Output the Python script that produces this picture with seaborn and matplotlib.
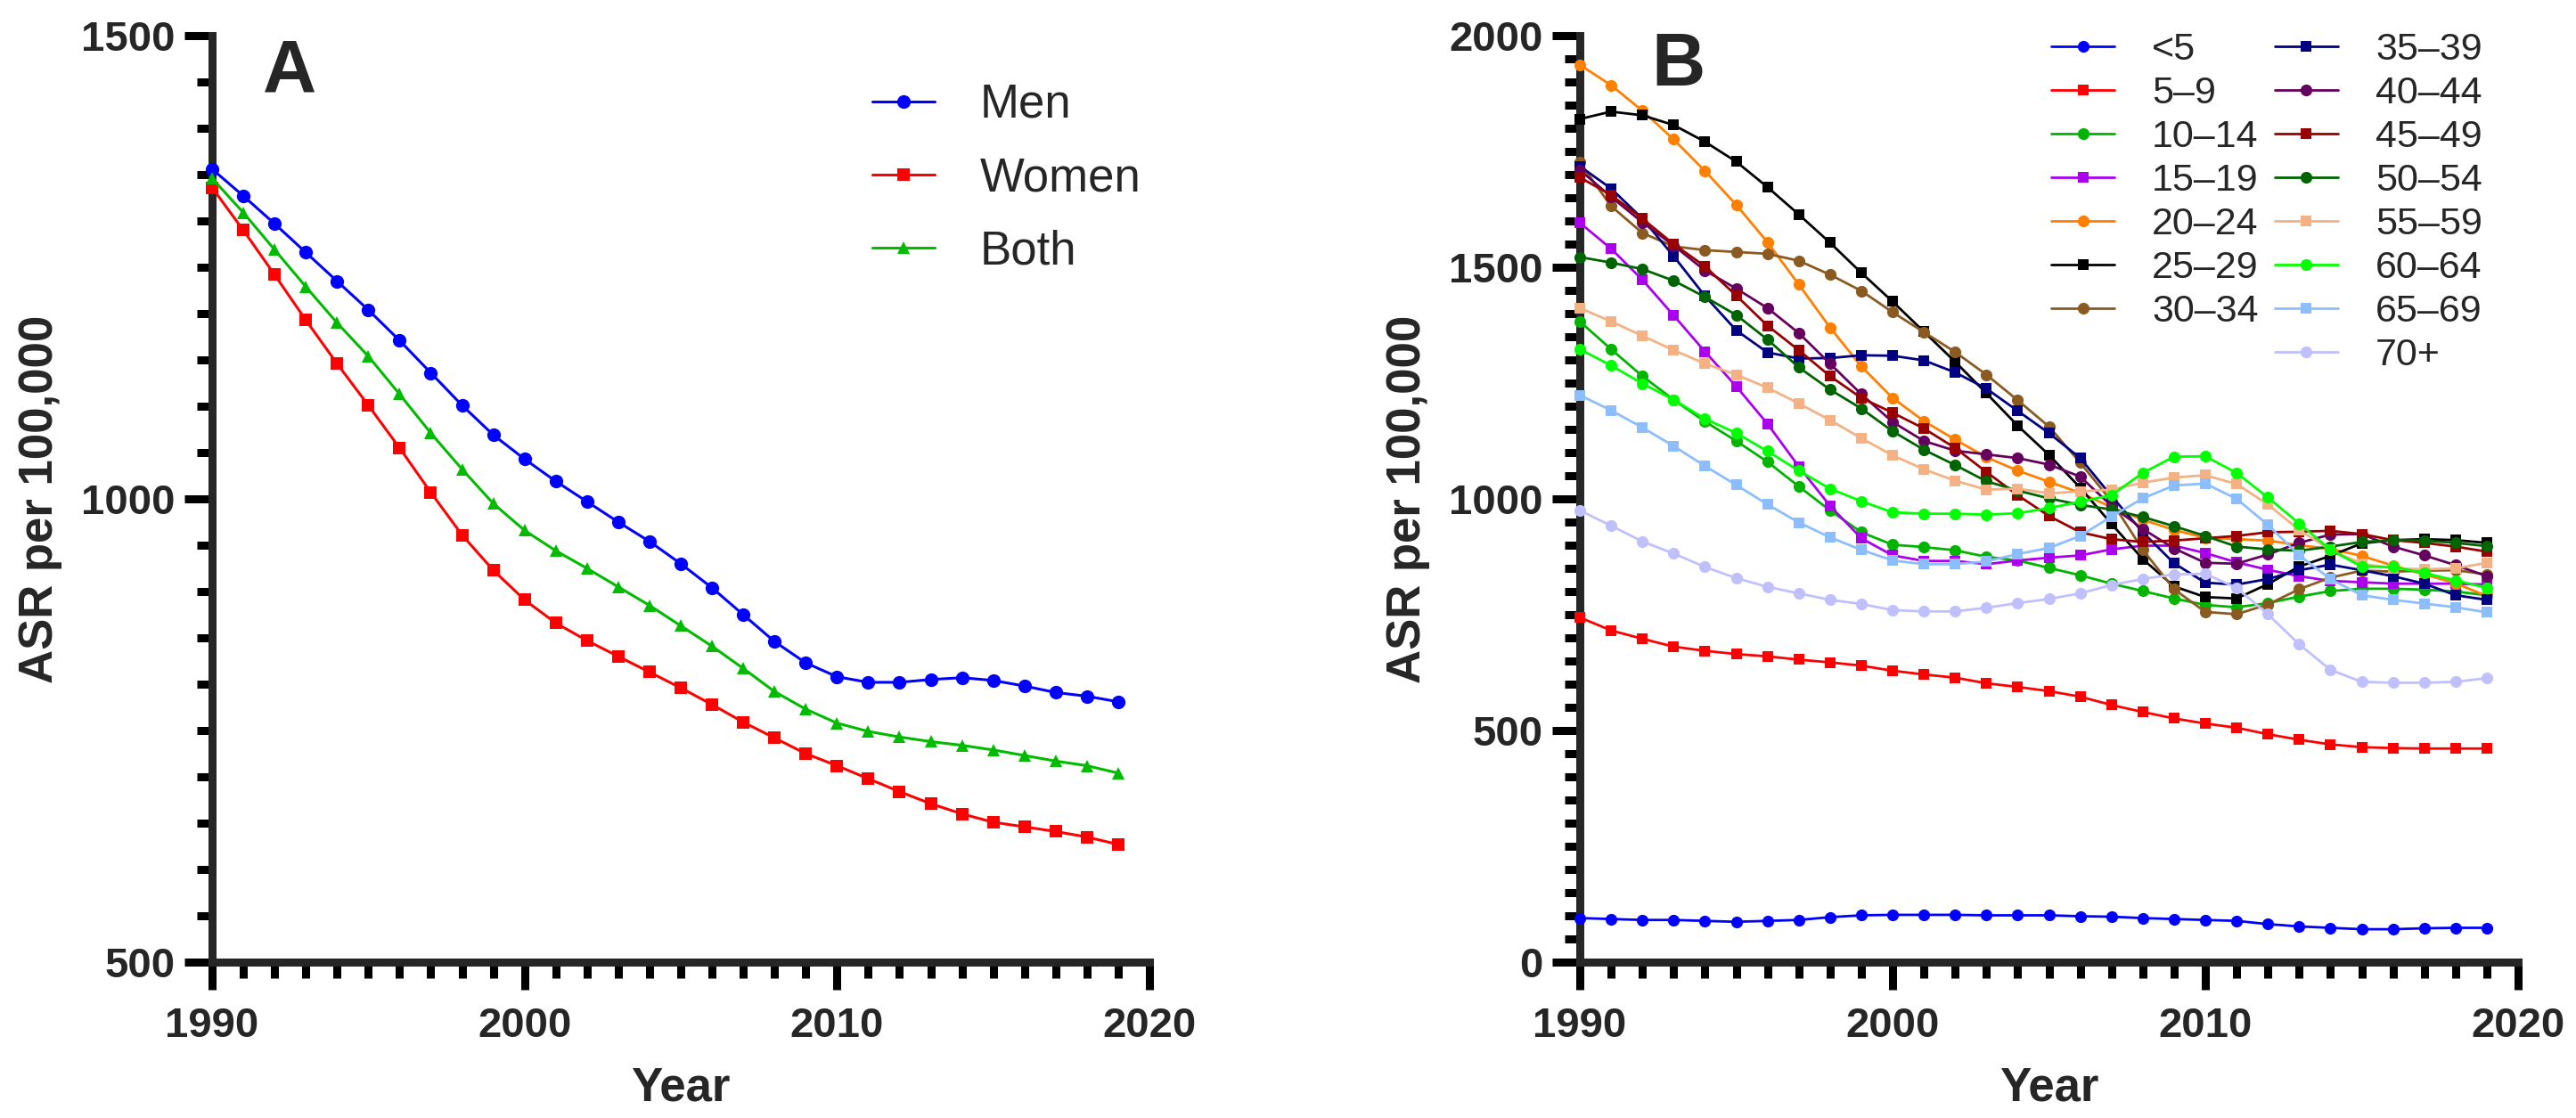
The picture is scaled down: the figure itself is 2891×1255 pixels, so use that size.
import matplotlib
matplotlib.use("Agg")
import matplotlib.pyplot as plt
from matplotlib.ticker import MultipleLocator, FixedLocator
from matplotlib.lines import Line2D
import seaborn as sns

sns.set_style("ticks")
plt.rcParams['font.family'] = ['Liberation Sans', 'DejaVu Sans']

years = list(range(1990, 2020))

# Panel A
sex_labels = ["Men", "Women", "Both"]
men = [1356, 1327, 1297, 1266, 1235, 1204, 1171, 1136, 1101, 1069, 1043, 1019, 997, 975, 954,
       930, 904, 875, 846, 823, 808, 802, 802, 805, 807, 804, 798, 791, 787, 781]
women = [1336, 1290, 1242, 1193, 1146, 1101, 1055, 1007, 961, 923, 891, 866, 847, 830, 813,
         796, 778, 759, 742, 725, 712, 698, 684, 671, 660, 651, 646, 641, 635, 627]
both = [1346, 1309, 1269, 1229, 1190, 1154, 1113, 1071, 1032, 995, 966, 944, 925, 905, 885,
        863, 841, 817, 792, 773, 758, 749, 743, 738, 734, 729, 723, 717, 712, 704]

# Panel B
age_labels = ["<5", "5–9", "10–14", "15–19", "20–24", "25–29", "30–34", "35–39",
              "40–44", "45–49", "50–54", "55–59", "60–64", "65–69", "70+"]
age_lt5 = [95, 93, 91, 91, 89, 87, 89, 91, 97, 101, 102, 102, 102, 101, 101, 101, 99, 98, 95, 93,
           91, 89, 82, 77, 74, 71, 71, 73, 74, 74]
age_5_9 = [744, 716, 698, 681, 672, 665, 660, 653, 647, 640, 629, 621, 614, 602, 594, 585, 573,
           555, 540, 526, 515, 506, 492, 480, 470, 464, 462, 461, 461, 461]
age_10_14 = [1383, 1323, 1265, 1214, 1167, 1125, 1080, 1027, 975, 928, 901, 896, 889, 875, 867,
             851, 835, 817, 801, 785, 771, 766, 775, 789, 801, 806, 806, 804, 800, 792]
age_15_19 = [1596, 1540, 1473, 1396, 1318, 1243, 1162, 1070, 985, 915, 878, 866, 866, 859, 867,
             873, 878, 891, 899, 899, 883, 863, 847, 833, 823, 820, 817, 817, 817, 815]
age_20_24 = [1937, 1893, 1838, 1776, 1708, 1635, 1554, 1463, 1370, 1286, 1218, 1168, 1128, 1090,
             1061, 1037, 1013, 982, 955, 933, 916, 913, 910, 900, 892, 877, 856, 837, 818, 790]
age_25_29 = [1820, 1836, 1828, 1807, 1771, 1728, 1673, 1614, 1553, 1488, 1426, 1361, 1296, 1228,
             1158, 1095, 1024, 946, 870, 811, 788, 785, 816, 854, 877, 904, 911, 913, 911, 905]
age_30_34 = [1726, 1632, 1574, 1545, 1537, 1533, 1529, 1514, 1484, 1449, 1403, 1360, 1317, 1268,
             1213, 1156, 1078, 995, 890, 805, 756, 751, 772, 805, 830, 845, 843, 845, 846, 837]
age_35_39 = [1718, 1670, 1605, 1524, 1438, 1364, 1316, 1303, 1304, 1310, 1309, 1299, 1273, 1238,
             1190, 1142, 1088, 1006, 928, 861, 819, 815, 827, 846, 858, 846, 833, 817, 792, 782]
age_40_44 = [1710, 1652, 1597, 1547, 1493, 1454, 1412, 1358, 1292, 1226, 1166, 1125, 1104, 1096,
             1088, 1074, 1048, 985, 935, 893, 862, 860, 880, 905, 923, 924, 897, 878, 857, 833]
age_45_49 = [1694, 1656, 1605, 1550, 1502, 1439, 1374, 1321, 1265, 1218, 1186, 1152, 1110, 1058,
             1008, 963, 928, 913, 907, 910, 915, 920, 928, 929, 931, 924, 911, 905, 897, 886]
age_50_54 = [1522, 1510, 1496, 1471, 1436, 1397, 1344, 1284, 1236, 1195, 1146, 1106, 1073, 1038,
             1018, 1001, 987, 977, 961, 941, 920, 897, 891, 888, 897, 907, 911, 910, 905, 898]
age_55_59 = [1412, 1383, 1352, 1321, 1292, 1268, 1240, 1206, 1170, 1131, 1094, 1064, 1039, 1020,
             1022, 1012, 1016, 1020, 1035, 1046, 1051, 1032, 988, 933, 890, 860, 850, 848, 850, 862]
age_60_64 = [1323, 1288, 1249, 1214, 1173, 1142, 1103, 1061, 1022, 995, 971, 968, 968, 966, 969,
             980, 994, 1008, 1056, 1091, 1092, 1056, 1003, 947, 890, 854, 853, 840, 824, 808]
age_65_69 = [1224, 1191, 1154, 1114, 1071, 1030, 988, 949, 917, 890, 867, 859, 859, 865, 881,
             894, 920, 962, 1001, 1029, 1033, 1000, 944, 878, 827, 792, 782, 774, 766, 755]
age_70p = [975, 942, 908, 882, 853, 829, 810, 796, 782, 773, 760, 757, 757, 765, 775, 784, 796,
           814, 827, 837, 838, 808, 751, 686, 631, 605, 603, 603, 605, 613]

age_series = [age_lt5, age_5_9, age_10_14, age_15_19, age_20_24, age_25_29, age_30_34, age_35_39,
              age_40_44, age_45_49, age_50_54, age_55_59, age_60_64, age_65_69, age_70p]
age_colors = ['#0000FF', '#FF0000', '#00B400', '#AA00EE', '#FF8000', '#000000', '#8B5A20',
              '#000080', '#66005E', '#990000', '#006400', '#F4B183', '#00FF00', '#8CBEFF', '#C0C0FF']
age_markers = ['o', 's', 'o', 's', 'o', 's', 'o', 's', 'o', 's', 'o', 's', 'o', 's', 'o']

W, H = 2891, 1255
fig = plt.figure(figsize=(W / 100, H / 100), dpi=100)
axA = fig.add_axes([238 / W, 175 / H, 1052 / W, 1040 / H])
axB = fig.add_axes([1773 / W, 175 / H, 1053 / W, 1040 / H])

SP = 6.5
TICK_FS = 34
LAB_FS = 38


def style_axis(ax, ymin, ymax):
    ax.set_xlim(1990, 2020)
    ax.set_ylim(ymin, ymax)
    sns.despine(ax=ax)
    for s in ['left', 'bottom']:
        ax.spines[s].set_linewidth(SP)
        ax.spines[s].set_capstyle('projecting')
    ax.xaxis.set_major_locator(FixedLocator([1990, 2000, 2010, 2020]))
    ax.xaxis.set_minor_locator(MultipleLocator(1))
    ax.yaxis.set_major_locator(MultipleLocator(500))
    ax.yaxis.set_minor_locator(MultipleLocator(50))
    ax.tick_params(which='major', direction='out', length=22, width=SP, color='black',
                   labelsize=TICK_FS)
    ax.tick_params(which='minor', direction='out', length=12.6, width=SP, color='black')
    ax.tick_params(axis='x', which='major', pad=14)
    ax.tick_params(axis='y', which='major', pad=8)
    for lab in ax.get_xticklabels() + ax.get_yticklabels():
        lab.set_fontweight('bold')
    ax.set_xlabel('Year', fontsize=LAB_FS, fontweight='bold')
    ax.set_ylabel('ASR per 100,000', fontsize=LAB_FS, fontweight='bold')
    ax.yaxis.label.set_va('center')
    ax.xaxis.label.set_va('center')
    ax.yaxis.set_label_coords(-0.1835, 0.5)
    ax.xaxis.set_label_coords(0.5, -0.1365)
    ax.set_facecolor('white')


# ---- Panel A
sexA = [(men, '#0000FF', 'o', 11), (women, '#FF0000', 's', 10), (both, '#00BB00', '^', 10)]
for (vals, col, mk, ms), lab in zip(sexA, sex_labels):
    sns.lineplot(x=years, y=vals, ax=axA, color=col, marker=mk, markersize=ms,
                 markeredgewidth=0, linewidth=2.2, label=lab, clip_on=False, zorder=5,
                 legend=False)
style_axis(axA, 500, 1500)
hA = [Line2D([], [], color=c, marker=m, markersize=ms, markeredgewidth=0, linewidth=2.2)
      for (_, c, m, ms) in sexA]
legA = axA.legend(hA, sex_labels, loc='upper left', bbox_to_anchor=(979 / W, 1 - 93 / H),
                  bbox_transform=fig.transFigure, frameon=False, fontsize=38, borderpad=0,
                  borderaxespad=0, handlelength=1.33, handletextpad=0.95, labelspacing=0.61)
axA.text(0.054, 0.9385, 'A', transform=axA.transAxes, fontsize=60, fontweight='bold',
         ha='left', va='baseline')

# ---- Panel B
for vals, col, mk, lab in zip(age_series, age_colors, age_markers, age_labels):
    sns.lineplot(x=years, y=vals, ax=axB, color=col, marker=mk,
                 markersize=9 if mk == 's' else 9.5, markeredgewidth=0, linewidth=2.0,
                 label=lab, clip_on=False, zorder=5, legend=False)
style_axis(axB, 0, 2000)
hB = [Line2D([], [], color=c, marker=m, markersize=9 if m == 's' else 9.5,
             markeredgewidth=0, linewidth=2.0) for c, m in zip(age_colors, age_markers)]
labsB = list(age_labels)
dummy = Line2D([], [], color='none', linewidth=0)
hB.insert(7, dummy)
labsB.insert(7, '')
legB = axB.legend(hB, labsB, ncol=2, loc='upper left', bbox_to_anchor=(2302 / W, 1 - 36 / H),
                  bbox_transform=fig.transFigure, frameon=False, fontsize=31, borderpad=0,
                  borderaxespad=0, handlelength=1.65, handletextpad=0.98, labelspacing=0.21,
                  columnspacing=0.42)
axB.text(0.076, 0.946, 'B', transform=axB.transAxes, fontsize=60, fontweight='bold',
         ha='left', va='baseline')

fig.savefig('out.png', dpi=100, facecolor='white')
